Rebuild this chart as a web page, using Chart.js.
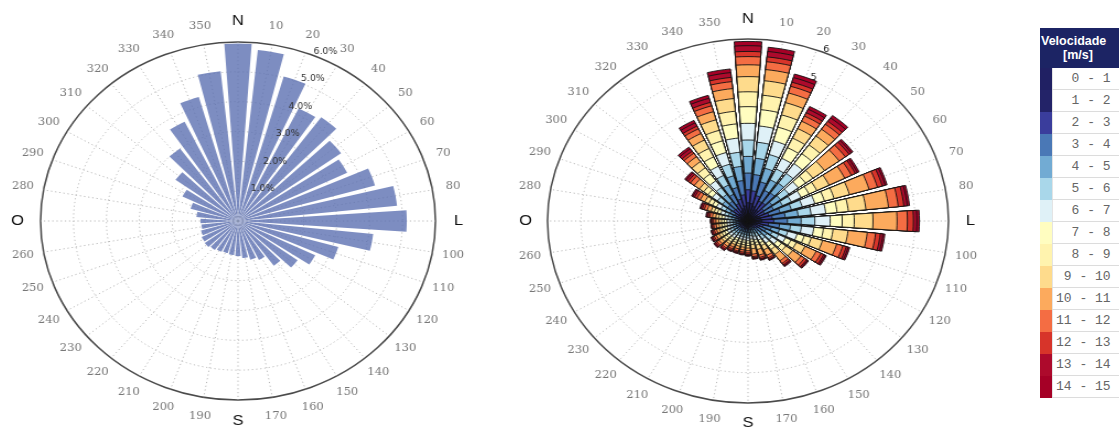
<!DOCTYPE html>
<html>
<head>
<meta charset="utf-8">
<script src="https://cdn.jsdelivr.net/npm/chart.js@4/dist/chart.umd.min.js"></script>
<style>
html, body { margin: 0; padding: 0; background: #fff; }
body { width: 1119px; height: 429px; overflow: hidden; position: relative; font-family: "Liberation Sans", Arial, sans-serif; }
canvas { position: absolute; top: 0; }
#roseLeft { left: 17.5px; transform: scaleX(1.103); transform-origin: 220px 0; }
#roseRight { left: 527.5px; transform: scaleX(1.1016); transform-origin: 220px 0; }
#legend { position: absolute; left: 1040px; top: 28px; width: 84px; }
#legend .hd { background: #1c2464; color: #fff; font-weight: bold; font-size: 12.5px; line-height: 14px; height: 40px; box-sizing: border-box; padding-top: 6px; text-align: left; padding-left: 1px; }
#legend .hd span { display: block; padding-left: 22px; }
#legend table { border-collapse: collapse; width: 84px; }
#legend td { height: 21px; padding: 0; border-bottom: 1px solid #dcdcdc; }
#legend td.sw { width: 12px; border-bottom: none; }
#legend td.tx { font-family: "Liberation Mono", "DejaVu Sans Mono", monospace; font-size: 13px; color: #666; text-align: left; padding-left: 3px; white-space: pre; border-left: 1px solid #e4e4e4; }
</style>
</head>
<body>
<canvas id="roseLeft" width="440" height="429"></canvas>
<canvas id="roseRight" width="440" height="429"></canvas>
<div id="legend">
  <div class="hd">Velocidade<span>[m/s]</span></div>
  <table id="legendRows"></table>
</div>
<script>
// direction labels, every 10 degrees clockwise from north
const dirLabels = ['N','10','20','30','40','50','60','70','80','L','100','110','120','130','140','150','160','170',
                   'S','190','200','210','220','230','240','250','260','O','280','290','300','310','320','330','340','350'];
const cardinals = ['N', 'L', 'S', 'O'];
const pctTicks = ['1.0%', '2.0%', '3.0%', '4.0%', '5.0%', '6.0%'];
const numTicks = ['1', '2', '3', '4', '5', '6'];

// left rose: frequency per direction (%)
const totalFreq = [5.95,5.76,5.04,4.2,4.3,3.87,3.69,4.33,4.86,5.13,4.13,3.17,2.61,2.24,1.85,1.45,1.35,1.25,
                   1.18,1.15,1.12,1.15,1.2,1.25,1.23,1.17,1.12,1.14,1.27,1.5,1.88,2.35,3.0,3.7,4.32,5.05];

// right rose: frequency per direction for each speed class (%)
const speedLabels = ['0 - 1',' 1 - 2',' 2 - 3',' 3 - 4',' 4 - 5',' 5 - 6',' 6 - 7',' 7 - 8',' 8 - 9',' 9 - 10','10 - 11','11 - 12','12 - 13','13 - 14','14 - 15'];
const speedColors = ['#202063','#232368','#3a3d9c','#4a78b6','#72abd3','#a9d7ea','#dff1f7','#fffdc0','#fff3ae','#fedb8c','#fcaa5d','#f46d43','#d7342a','#ad0a2c','#a50026'];

const bin0_1   = [0.24,0.23,0.20,0.17,0.17,0.12,0.11,0.13,0.15,0.15,0.12,0.10,0.08,0.07,0.06,0.04,0.04,0.04,0.07,0.07,0.07,0.07,0.07,0.08,0.07,0.07,0.07,0.07,0.08,0.09,0.11,0.14,0.12,0.15,0.17,0.20];
const bin1_2   = [0.36,0.35,0.30,0.25,0.26,0.19,0.18,0.22,0.24,0.26,0.21,0.16,0.13,0.11,0.09,0.07,0.07,0.06,0.09,0.09,0.09,0.09,0.10,0.10,0.10,0.09,0.09,0.09,0.10,0.12,0.15,0.19,0.18,0.22,0.26,0.30];
const bin2_3   = [0.43,0.42,0.37,0.31,0.31,0.27,0.26,0.30,0.34,0.36,0.29,0.22,0.18,0.16,0.13,0.10,0.09,0.09,0.11,0.10,0.10,0.10,0.11,0.11,0.11,0.11,0.10,0.10,0.11,0.14,0.17,0.21,0.22,0.27,0.32,0.37];
const bin3_4   = [0.55,0.54,0.47,0.39,0.40,0.31,0.30,0.35,0.39,0.41,0.33,0.25,0.21,0.18,0.15,0.12,0.11,0.10,0.11,0.10,0.10,0.10,0.11,0.11,0.11,0.11,0.10,0.10,0.11,0.14,0.17,0.21,0.28,0.34,0.40,0.47];
const bin4_5   = [0.55,0.54,0.47,0.39,0.40,0.31,0.30,0.35,0.39,0.41,0.33,0.25,0.21,0.18,0.15,0.12,0.11,0.10,0.09,0.09,0.09,0.09,0.10,0.10,0.10,0.09,0.09,0.09,0.10,0.12,0.15,0.19,0.28,0.34,0.40,0.47];
const bin5_6   = [0.54,0.53,0.47,0.40,0.40,0.31,0.29,0.34,0.39,0.41,0.33,0.26,0.21,0.18,0.15,0.12,0.11,0.10,0.09,0.09,0.09,0.09,0.10,0.10,0.10,0.09,0.09,0.09,0.10,0.12,0.15,0.19,0.28,0.35,0.40,0.47];
const bin6_7   = [0.55,0.54,0.47,0.39,0.40,0.35,0.33,0.39,0.44,0.46,0.37,0.29,0.23,0.20,0.17,0.13,0.12,0.11,0.09,0.09,0.09,0.09,0.10,0.10,0.10,0.09,0.09,0.09,0.10,0.12,0.15,0.19,0.28,0.34,0.40,0.47];
const bin7_8   = [0.55,0.54,0.47,0.39,0.40,0.27,0.26,0.30,0.34,0.36,0.29,0.22,0.18,0.16,0.13,0.10,0.09,0.09,0.08,0.08,0.08,0.08,0.08,0.09,0.09,0.08,0.08,0.08,0.09,0.10,0.13,0.16,0.28,0.34,0.40,0.47];
const bin8_9   = [0.49,0.48,0.42,0.35,0.36,0.27,0.26,0.30,0.34,0.36,0.29,0.22,0.18,0.16,0.13,0.10,0.09,0.09,0.08,0.08,0.08,0.08,0.08,0.09,0.09,0.08,0.08,0.08,0.09,0.10,0.13,0.16,0.25,0.31,0.36,0.42];
const bin9_10  = [0.50,0.48,0.42,0.35,0.36,0.43,0.41,0.48,0.53,0.56,0.45,0.35,0.29,0.25,0.20,0.16,0.15,0.14,0.08,0.08,0.08,0.08,0.08,0.09,0.09,0.08,0.08,0.08,0.09,0.10,0.13,0.16,0.25,0.31,0.36,0.42];
const bin10_11 = [0.39,0.37,0.33,0.27,0.28,0.54,0.52,0.61,0.68,0.72,0.58,0.44,0.37,0.31,0.26,0.20,0.19,0.18,0.09,0.09,0.09,0.09,0.10,0.10,0.10,0.09,0.09,0.09,0.10,0.12,0.15,0.19,0.20,0.24,0.28,0.33];
const bin11_12 = [0.27,0.26,0.23,0.19,0.20,0.23,0.22,0.26,0.29,0.31,0.25,0.19,0.16,0.13,0.11,0.09,0.08,0.08,0.07,0.07,0.07,0.07,0.07,0.08,0.07,0.07,0.07,0.07,0.08,0.09,0.11,0.14,0.14,0.17,0.20,0.23];
const bin12_13 = [0.17,0.16,0.14,0.12,0.12,0.14,0.13,0.15,0.17,0.18,0.14,0.11,0.09,0.08,0.06,0.05,0.05,0.04,0.05,0.05,0.04,0.05,0.05,0.05,0.05,0.05,0.04,0.05,0.05,0.06,0.08,0.09,0.08,0.10,0.12,0.14];
const bin13_14 = [0.19,0.18,0.16,0.13,0.14,0.08,0.07,0.09,0.10,0.10,0.08,0.06,0.05,0.04,0.04,0.03,0.03,0.03,0.04,0.03,0.03,0.03,0.04,0.04,0.04,0.04,0.03,0.03,0.04,0.05,0.06,0.07,0.10,0.12,0.14,0.16];
const bin14_15 = [0.14,0.14,0.12,0.10,0.10,0.06,0.06,0.06,0.07,0.08,0.06,0.05,0.04,0.03,0.03,0.02,0.02,0.02,0.02,0.02,0.02,0.02,0.02,0.03,0.02,0.02,0.02,0.02,0.03,0.03,0.04,0.05,0.07,0.09,0.10,0.12];

const speedBins = [bin0_1,bin1_2,bin2_3,bin3_4,bin4_5,bin5_6,bin6_7,bin7_8,bin8_9,bin9_10,bin10_11,bin11_12,bin12_13,bin13_14,bin14_15];

// 72 grid labels (one between each direction) so the angle lines fall on bar centres
const gridLabels = dirLabels.flatMap(l => ['', l]);
// each direction = small gap, 8 degree bar, small gap
const spread = values => values.flatMap(v => [0, v, 0]);
const isBar = c => c.dataIndex % 3 === 1;

const dirLabelsPlugin = {
  id: 'dirLabels',
  afterDraw(chart, args, o) {
    const s = chart.scales.r, ctx = chart.ctx;
    ctx.save();
    ctx.textAlign = 'center';
    ctx.textBaseline = 'middle';
    dirLabels.forEach((lab, k) => {
      const big = cardinals.includes(lab);
      const p = s.getPointPosition(2 * k + 1, s.drawingArea + (big ? o.bigGap : o.gap));
      ctx.font = big ? '15px "Liberation Sans", Arial, sans-serif' : '10.5px "DejaVu Serif", serif';
      ctx.fillStyle = big ? '#111' : '#777';
      ctx.fillText(lab, p.x, p.y);
    });
    ctx.restore();
  }
};

function drawTickText(chart, o) {
  const s = chart.scales.r, ctx = chart.ctx, a = o.angle * Math.PI / 180;
  ctx.save();
  ctx.font = o.font;
  ctx.fillStyle = o.color;
  ctx.textAlign = o.align;
  ctx.textBaseline = o.baseline;
  o.labels.forEach((t, i) => {
    const d = s.getDistanceFromCenterForValue(i + 1) + o.shift;
    ctx.fillText(t, s.xCenter + d * Math.sin(a), s.yCenter - d * Math.cos(a));
  });
  ctx.restore();
}

const tickTextPlugin = {
  id: 'tickText',
  beforeDatasetsDraw(chart, args, o) { if (!o.onTop) drawTickText(chart, o); },
  afterDatasetsDraw(chart, args, o) { if (o.onTop) drawTickText(chart, o); }
};

function roseOptions(padding, labelOpts, tickOpts) {
  return {
    responsive: false,
    animation: false,
    layout: { padding: padding },
    plugins: {
      legend: { display: false },
      tooltip: { enabled: false },
      dirLabels: labelOpts,
      tickText: tickOpts
    },
    scales: {
      r: {
        min: 0,
        max: 6,
        startAngle: -5,
        ticks: { display: false, stepSize: 1 },
        pointLabels: { display: false },
        grid: {
          circular: true,
          color: c => c.tick && c.tick.value === 6 ? '#4a4a4a' : '#b8b8b8',
          lineWidth: c => c.tick && c.tick.value === 6 ? 1.5 : 1
        },
        border: { dash: c => c.tick && c.tick.value === 6 ? [] : [1.2, 2.6] },
        angleLines: {
          display: true,
          color: '#b8b8b8',
          lineWidth: c => c.index % 2 ? 1 : 0,
          borderDash: [1.2, 2.6]
        }
      }
    }
  };
}

new Chart(document.getElementById('roseLeft'), {
  type: 'polarArea',
  data: {
    labels: gridLabels,
    datasets: [{
      data: spread(totalFreq),
      backgroundColor: c => isBar(c) ? 'rgba(92,112,178,0.8)' : 'rgba(0,0,0,0)',
      borderWidth: 0,
      angle: c => isBar(c) ? 8 : 1
    }]
  },
  options: roseOptions(
    { top: 42, bottom: 29, left: 41, right: 41 },
    { gap: 19, bigGap: 21 },
    { labels: pctTicks, onTop: true, angle: 22.5, shift: 0, font: '8.5px "DejaVu Sans", sans-serif',
      color: '#333', align: 'left', baseline: 'bottom' }
  ),
  plugins: [dirLabelsPlugin, tickTextPlugin]
});

// stacked classes: each dataset holds the running total, smallest drawn on top
let running = totalFreq.map(() => 0);
const stackSets = speedBins.map((bin, k) => {
  running = running.map((r, i) => r + bin[i]);
  return {
    data: spread(running),
    backgroundColor: c => isBar(c) ? speedColors[k] : 'rgba(0,0,0,0)',
    borderColor: '#121212',
    borderWidth: c => isBar(c) ? 0.9 : 0,
    angle: c => isBar(c) ? 8 : 1
  };
});

new Chart(document.getElementById('roseRight'), {
  type: 'polarArea',
  data: { labels: gridLabels, datasets: stackSets },
  options: roseOptions(
    { top: 39, bottom: 26, left: 38, right: 38 },
    { gap: 19, bigGap: 20 },
    { labels: numTicks, onTop: false, angle: 22.5, shift: 4, font: '9px "DejaVu Sans", sans-serif',
      color: '#222', align: 'center', baseline: 'middle' }
  ),
  plugins: [dirLabelsPlugin, tickTextPlugin]
});

// colour key
const rows = document.getElementById('legendRows');
speedLabels.forEach((lab, k) => {
  const tr = document.createElement('tr');
  const sw = document.createElement('td');
  sw.className = 'sw';
  sw.style.background = speedColors[k];
  const tx = document.createElement('td');
  tx.className = 'tx';
  tx.textContent = lab.length < 7 ? ' ' + lab.trim().padStart(6, ' ') : lab;
  tr.appendChild(sw);
  tr.appendChild(tx);
  rows.appendChild(tr);
});
</script>
</body>
</html>
